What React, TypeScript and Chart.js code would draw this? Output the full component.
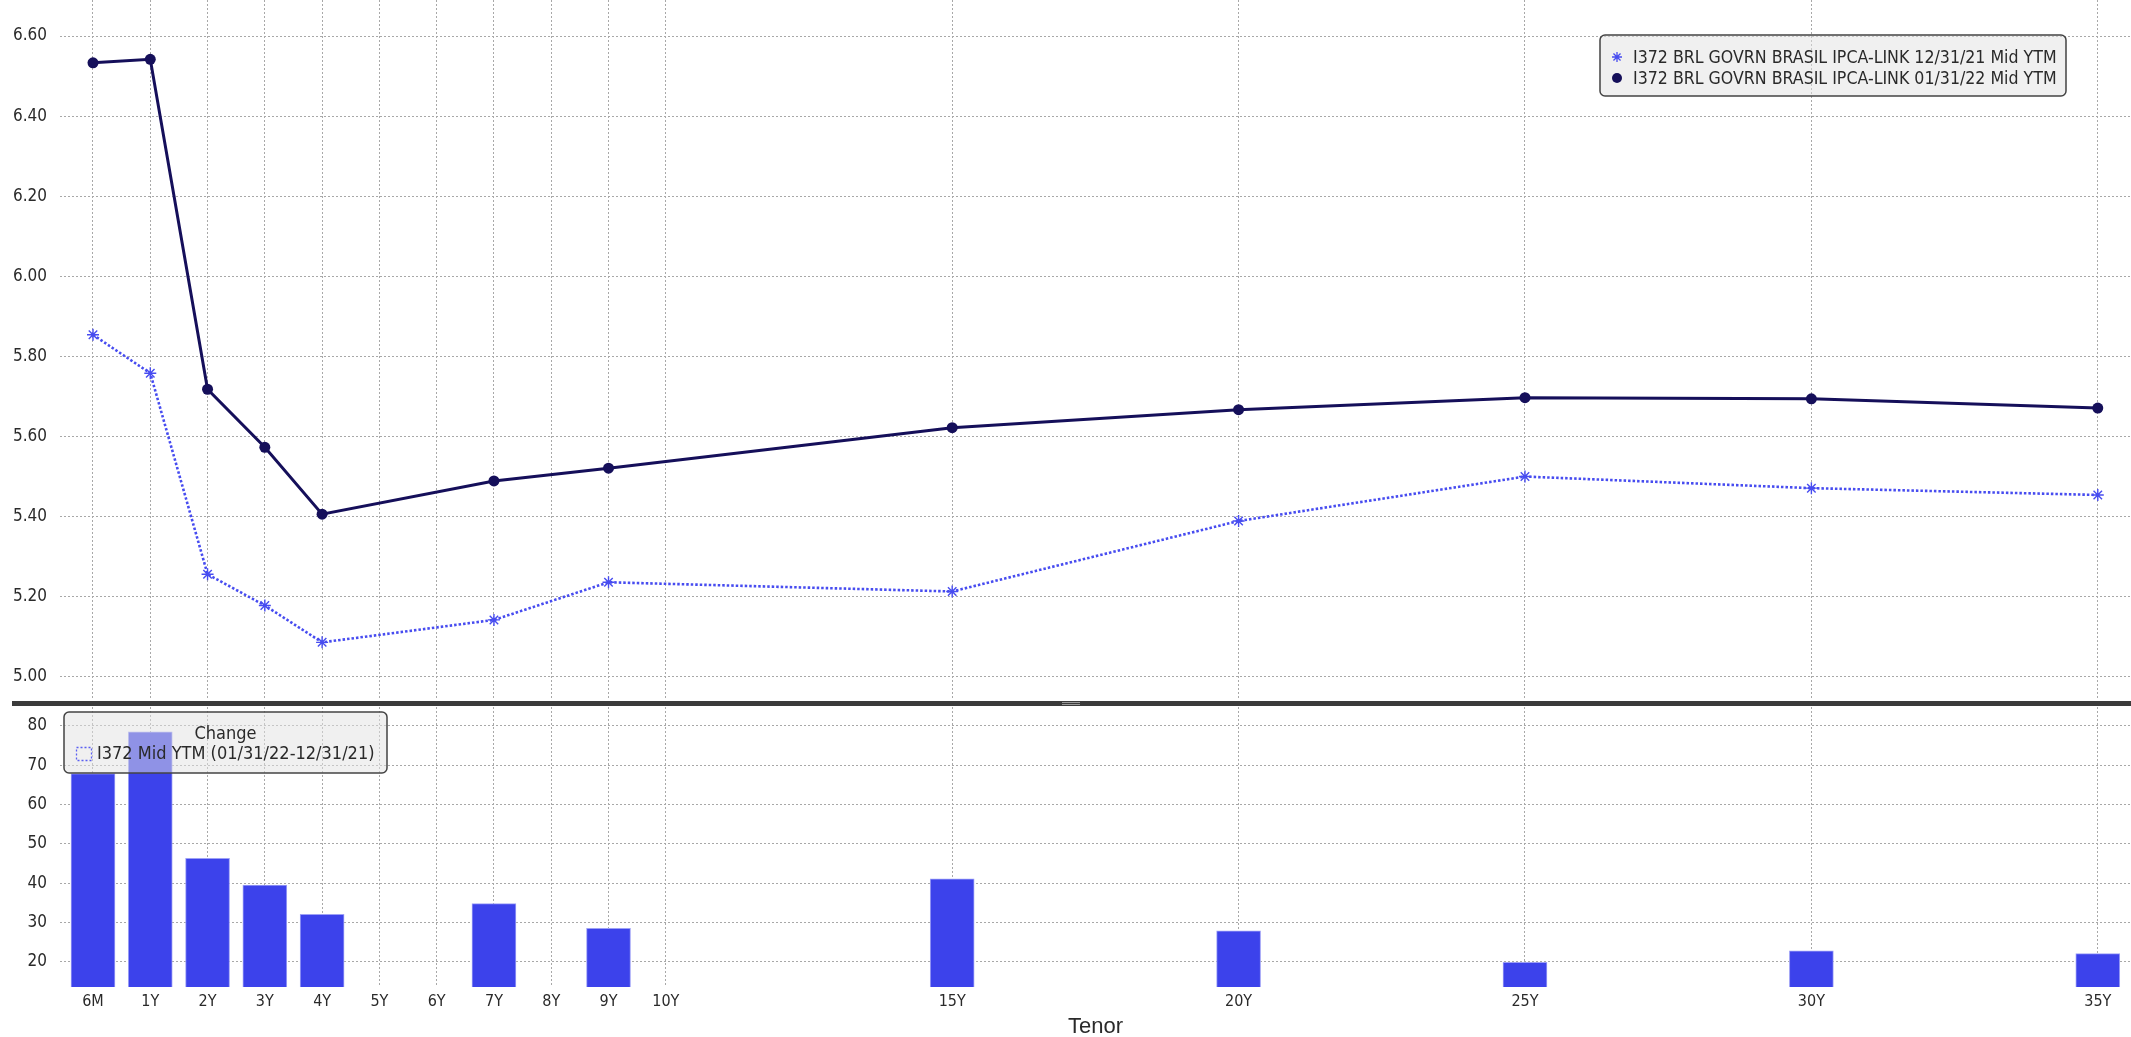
import React, { useEffect, useRef } from 'react';
import { Chart, registerables } from 'chart.js';

Chart.register(...registerables);

// ---------- data ----------
const tenors = ['6M', '1Y', '2Y', '3Y', '4Y', '7Y', '9Y', '15Y', '20Y', '25Y', '30Y', '35Y'];
const ytmDec21 = [5.854, 5.758, 5.256, 5.178, 5.086, 5.142, 5.236, 5.213, 5.389, 5.5, 5.471, 5.454];
const ytmJan22 = [6.533, 6.542, 5.718, 5.573, 5.406, 5.489, 5.521, 5.622, 5.667, 5.697, 5.694, 5.671];
const changeBp = [67.9, 78.5, 46.3, 39.5, 32.1, 34.8, 28.5, 41.1, 27.9, 19.9, 22.8, 22.1];

const axisTenors = ['6M', '1Y', '2Y', '3Y', '4Y', '5Y', '6Y', '7Y', '8Y', '9Y', '10Y', '15Y', '20Y', '25Y', '30Y', '35Y'];
const yieldTicks = [5.0, 5.2, 5.4, 5.6, 5.8, 6.0, 6.2, 6.4, 6.6];
const changeTicks = [20, 30, 40, 50, 60, 70, 80];

const labelDec21 = 'I372 BRL GOVRN BRASIL IPCA-LINK 12/31/21 Mid YTM';
const labelJan22 = 'I372 BRL GOVRN BRASIL IPCA-LINK 01/31/22 Mid YTM';
const labelChange = 'I372 Mid YTM (01/31/22-12/31/21)';
const changeTitle = 'Change';
const xTitle = 'Tenor';

// Bloomberg places 6M one step before 1Y on its tenor axis
function tenorPos(t: string): number {
  return t.endsWith('M') ? 0 : parseInt(t, 10);
}

const FONT = '"DejaVu Sans Condensed", "DejaVu Sans", sans-serif';
const DARK = '#150f5a';
const BLUE = '#474cf0';
const BAR = '#3c42eb';
const GRID = '#a8a8a8';
const TEXT = '#2a2a2a';

const X_MIN = -0.576;
const X_MAX = 35.58;

function xScale(showLabels: boolean): any {
  return {
    type: 'linear',
    min: X_MIN,
    max: X_MAX,
    offset: false,
    afterBuildTicks: (s: any) => {
      s.ticks = axisTenors.map((t) => ({ value: tenorPos(t) }));
    },
    afterFit: (s: any) => {
      s.height = showLabels ? 50 : 0;
      s.paddingLeft = 0;
      s.paddingRight = 0;
    },
    grid: {
      display: true,
      offset: false,
      color: GRID,
      lineWidth: 1,
      drawTicks: false,
    },
    border: { display: false, dash: [2, 2] },
    ticks: {
      display: showLabels,
      padding: 5,
      autoSkip: false,
      maxRotation: 0,
      color: TEXT,
      font: { family: FONT, size: 16 },
      callback: (v: any) => {
        const t = axisTenors.find((a) => tenorPos(a) === v);
        return t ?? '';
      },
    },
    title: showLabels
      ? {
          display: true,
          text: xTitle,
          color: TEXT,
          font: { family: '"Liberation Sans", Arial, sans-serif', size: 22, lineHeight: 0.9 },
          padding: { top: 0, bottom: 0 },
        }
      : { display: false },
  };
}

function yScale(min: number, max: number, ticks: number[], fmt: (v: number) => string): any {
  return {
    min,
    max,
    afterBuildTicks: (s: any) => {
      s.ticks = ticks.map((v) => ({ value: v }));
    },
    afterFit: (s: any) => {
      s.width = 60;
      s.paddingTop = 0;
      s.paddingBottom = 0;
    },
    grid: { color: GRID, lineWidth: 1, drawTicks: false },
    border: { display: false, dash: [2, 2] },
    ticks: {
      padding: 13,
      color: TEXT,
      font: { family: FONT, size: 17 },
      callback: (v: any) => fmt(Number(v)),
    },
  };
}

function drawStar(ctx: CanvasRenderingContext2D, x: number, y: number, r: number, color: string) {
  ctx.save();
  ctx.strokeStyle = color;
  ctx.lineWidth = 1.3;
  ctx.beginPath();
  for (let i = 0; i < 4; i++) {
    const a = (Math.PI / 4) * i;
    ctx.moveTo(x - Math.cos(a) * r, y - Math.sin(a) * r);
    ctx.lineTo(x + Math.cos(a) * r, y + Math.sin(a) * r);
  }
  ctx.stroke();
  ctx.restore();
}

const topLegendPlugin = {
  id: 'topLegend',
  afterDraw(chart: any) {
    const ctx = chart.ctx as CanvasRenderingContext2D;
    const { right, top } = chart.chartArea;
    const w = 466;
    const h = 61;
    const x = right - 65 - w;
    const y = top + 35;
    ctx.save();
    ctx.beginPath();
    (ctx as any).roundRect(x, y, w, h, 5);
    ctx.fillStyle = 'rgba(225,225,225,0.5)';
    ctx.fill();
    ctx.lineWidth = 1.5;
    ctx.strokeStyle = '#444';
    ctx.stroke();
    ctx.font = `17.6px ${FONT}`;
    ctx.fillStyle = TEXT;
    ctx.textBaseline = 'middle';
    ctx.textAlign = 'left';
    chart.data.datasets.forEach((ds: any, i: number) => {
      const cy = y + 22 + i * 21;
      if (ds.pointStyle === 'star') {
        drawStar(ctx, x + 17, cy, 5, ds.borderColor);
      } else {
        ctx.beginPath();
        ctx.arc(x + 17, cy, 5, 0, Math.PI * 2);
        ctx.fillStyle = ds.borderColor;
        ctx.fill();
      }
      ctx.fillStyle = TEXT;
      ctx.fillText(ds.label, x + 33, cy + 1);
    });
    ctx.restore();
  },
};

const bottomLegendPlugin = {
  id: 'bottomLegend',
  afterDraw(chart: any) {
    const ctx = chart.ctx as CanvasRenderingContext2D;
    const { left, top } = chart.chartArea;
    const x = left + 4;
    const y = top + 5;
    const w = 323;
    const h = 61;
    ctx.save();
    ctx.beginPath();
    (ctx as any).roundRect(x, y, w, h, 5);
    ctx.fillStyle = 'rgba(225,225,225,0.5)';
    ctx.fill();
    ctx.lineWidth = 1.5;
    ctx.strokeStyle = '#444';
    ctx.stroke();
    ctx.font = `18px ${FONT}`;
    ctx.fillStyle = TEXT;
    ctx.textBaseline = 'middle';
    ctx.textAlign = 'center';
    ctx.fillText(changeTitle, x + w / 2, y + 22);
    const ds = chart.data.datasets[0];
    ctx.setLineDash([2, 2]);
    ctx.strokeStyle = '#5a5ff2';
    ctx.lineWidth = 1.3;
    ctx.strokeRect(x + 12.5, y + 35.5, 15, 13);
    ctx.setLineDash([]);
    ctx.textAlign = 'left';
    ctx.fillStyle = TEXT;
    ctx.fillText(ds.label, x + 33, y + 42);
    ctx.restore();
  },
};

export default function App() {
  const topRef = useRef<HTMLCanvasElement | null>(null);
  const botRef = useRef<HTMLCanvasElement | null>(null);

  useEffect(() => {
    document.body.style.margin = '0';
    const top = new Chart(topRef.current as HTMLCanvasElement, {
      type: 'line',
      data: {
        datasets: [
          {
            label: labelDec21,
            data: tenors.map((t, i) => ({ x: tenorPos(t), y: ytmDec21[i] })),
            borderColor: BLUE,
            backgroundColor: BLUE,
            borderWidth: 2.6,
            borderDash: [2.5, 2],
            pointStyle: 'star',
            pointRadius: 6,
            pointBorderWidth: 1.4,
            pointBorderColor: BLUE,
            tension: 0,
          },
          {
            label: labelJan22,
            data: tenors.map((t, i) => ({ x: tenorPos(t), y: ytmJan22[i] })),
            borderColor: DARK,
            backgroundColor: DARK,
            borderWidth: 3,
            pointStyle: 'circle',
            pointRadius: 5.5,
            pointBorderWidth: 0,
            pointBackgroundColor: DARK,
            tension: 0,
          },
        ],
      },
      options: {
        animation: false,
        responsive: false,
        devicePixelRatio: 1,
        layout: { padding: 0, autoPadding: false },
        plugins: { legend: { display: false }, tooltip: { enabled: false } },
        scales: {
          x: xScale(false),
          y: yScale(4.942, 6.69, yieldTicks, (v) => v.toFixed(2)),
        },
      },
      plugins: [topLegendPlugin],
    } as any);

    const bot = new Chart(botRef.current as HTMLCanvasElement, {
      type: 'bar',
      data: {
        datasets: [
          {
            label: labelChange,
            data: tenors.map((t, i) => ({ x: tenorPos(t), y: changeBp[i] })),
            backgroundColor: BAR,
            borderColor: '#9da0f6',
            borderWidth: 1,
            barThickness: 44,
          },
        ],
      },
      options: {
        animation: false,
        responsive: false,
        devicePixelRatio: 1,
        layout: { padding: 0, autoPadding: false },
        plugins: { legend: { display: false }, tooltip: { enabled: false } },
        scales: {
          x: xScale(true),
          y: yScale(13.6, 84.8, changeTicks, (v) => String(Math.round(v))),
        },
      },
      plugins: [bottomLegendPlugin],
    } as any);

    return () => {
      top.destroy();
      bot.destroy();
    };
  }, []);

  return (
    <div style={{ position: 'absolute', left: 0, top: 0, width: 2131, height: 1037, background: '#fff', overflow: 'hidden' }}>
      <canvas ref={topRef} width={2131} height={700} style={{ position: 'absolute', left: 0, top: 0, width: 2131, height: 700 }} />
      <div style={{ position: 'absolute', left: 12, top: 701, width: 2119, height: 5, background: '#3b3b3b' }} />
      <div style={{ position: 'absolute', left: 1062, top: 702, width: 18, height: 1, background: '#9a9a9a' }} />
      <div style={{ position: 'absolute', left: 1062, top: 704, width: 18, height: 1, background: '#9a9a9a' }} />
      <canvas ref={botRef} width={2131} height={330} style={{ position: 'absolute', left: 0, top: 707, width: 2131, height: 330 }} />
    </div>
  );
}
